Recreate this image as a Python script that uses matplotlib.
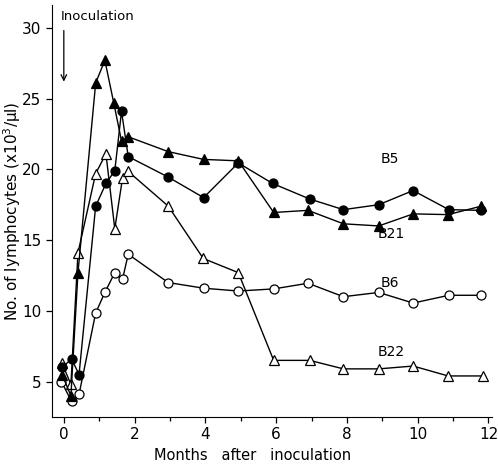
import numpy as np
import matplotlib
matplotlib.use("Agg")
import matplotlib.pyplot as plt

# months after inoculation / lymphocyte counts (x10^3/ul)
b5_x = [-0.05, 0.22, 0.43, 0.9, 1.19, 1.44, 1.63, 1.82, 2.95, 3.95, 4.93, 5.9, 6.95, 7.9, 8.9, 9.87, 10.88, 11.8]
b5_y = [6.0, 6.6, 5.5, 17.4, 19.0, 19.9, 24.1, 20.9, 19.45, 18.0, 20.45, 19.0, 17.9, 17.15, 17.5, 18.5, 17.15, 17.1]

b21_x = [-0.05, 0.2, 0.4, 0.9, 1.16, 1.41, 1.63, 1.82, 2.95, 3.95, 4.93, 5.93, 6.9, 7.9, 8.9, 9.87, 10.86, 11.8]
b21_y = [5.5, 4.0, 12.7, 26.1, 27.7, 24.7, 22.0, 22.3, 21.25, 20.7, 20.6, 16.95, 17.1, 16.15, 16.0, 16.85, 16.8, 17.4]

b22_x = [-0.05, 0.2, 0.4, 0.9, 1.19, 1.44, 1.66, 1.82, 2.95, 3.94, 4.93, 5.93, 6.95, 7.9, 8.9, 9.87, 10.86, 11.85]
b22_y = [6.3, 4.8, 14.1, 19.7, 21.1, 15.8, 19.4, 19.85, 17.4, 13.7, 12.7, 6.5, 6.5, 5.9, 5.9, 6.1, 5.4, 5.4]

b6_x = [-0.07, 0.22, 0.43, 0.9, 1.16, 1.44, 1.66, 1.82, 2.95, 3.95, 4.93, 5.93, 6.9, 7.9, 8.9, 9.87, 10.88, 11.8]
b6_y = [5.0, 3.6, 4.1, 9.85, 11.3, 12.7, 12.25, 14.0, 12.0, 11.6, 11.4, 11.55, 11.95, 11.0, 11.3, 10.55, 11.1, 11.1]

x_ticks = [0, 2, 4, 6, 8, 10, 12]
y_ticks = [5, 10, 15, 20, 25, 30]

fig = plt.figure(figsize=(4.98, 4.68), dpi=100)
ax = fig.add_axes([0.104, 0.109, 0.884, 0.88])

line_kw = dict(color="black", lw=1.0, ms=6.5, mec="black", mew=0.9)
ax.plot(b22_x, b22_y, marker="^", mfc="white", **line_kw)
ax.plot(b6_x, b6_y, marker="o", mfc="white", **line_kw)
ax.plot(b21_x, b21_y, marker="^", mfc="black", **line_kw)
ax.plot(b5_x, b5_y, marker="o", mfc="black", **line_kw)

ax.text(9.2, 20.7, "B5", ha="center", va="center", fontsize=10)
ax.text(9.25, 15.4, "B21", ha="center", va="center", fontsize=10)
ax.text(9.2, 12.0, "B6", ha="center", va="center", fontsize=10)
ax.text(9.25, 7.1, "B22", ha="center", va="center", fontsize=10)

ax.text(-0.08, 30.8, "Inoculation", ha="left", va="center", fontsize=9.5)
ax.annotate("", xy=(0, 26.0), xytext=(0, 30.0),
            arrowprops=dict(arrowstyle="->", color="black", lw=0.9))

ax.set_xlim(-0.34, 12.1)
ax.set_ylim(2.5, 31.6)
ax.set_xticks(x_ticks)
ax.set_xticks(np.arange(1, 12, 2), minor=True)
ax.set_yticks(y_ticks)
ax.tick_params(labelsize=11, length=4, width=0.9)
ax.tick_params(which="minor", length=3, width=0.9)

ax.spines["top"].set_visible(False)
ax.spines["right"].set_visible(False)

ax.set_xlabel("Months   after   inoculation", fontsize=10.5)
ax.xaxis.set_label_coords(0.457, -0.075)
ax.set_ylabel("No. of lymphocytes (x10$^3$/\u00b5l)", fontsize=11)
ax.yaxis.set_label_coords(-0.065, 0.5)

fig.savefig("out.png", dpi=100)
